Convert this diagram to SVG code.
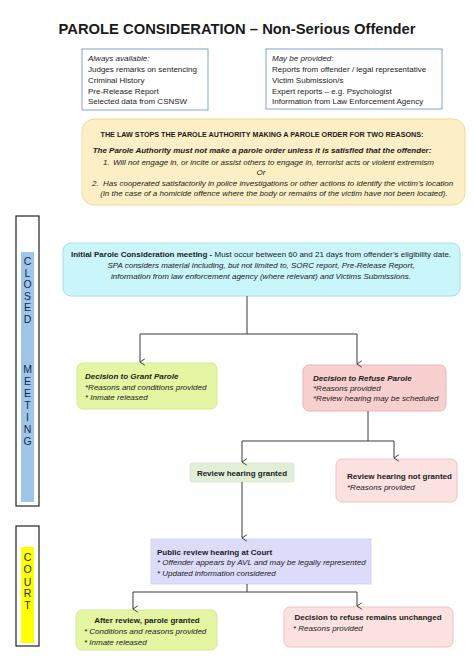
<svg xmlns="http://www.w3.org/2000/svg" width="474" height="670" viewBox="0 0 474 670">
<defs>
<style>
text{font-family:"Liberation Sans",Arial,sans-serif;fill:#1a1a1a;font-size:8px}
.b{font-weight:bold}
.i{font-style:italic}
.c{text-anchor:middle}
.side{font-size:10.5px;text-anchor:middle;fill:#1a2a4a}
.conn{fill:none;stroke:#3a3a3a;stroke-width:1}
</style>
<marker id="arr" viewBox="0 0 10 10" refX="5" refY="9" markerWidth="8" markerHeight="8" markerUnits="userSpaceOnUse" orient="auto-start-reverse">
<path d="M1,3 L5,9 L9,3" fill="none" stroke="#3a3a3a" stroke-width="1.2"/>
</marker>
</defs>
<rect width="474" height="670" fill="#ffffff"/>

<g id="title">
<text x="237" y="34" class="b c" style="font-size:15.5px" textLength="357" lengthAdjust="spacingAndGlyphs">PAROLE CONSIDERATION – Non-Serious Offender</text>
</g>

<g id="always">
<rect x="82" y="49" width="126" height="61" fill="#fff" stroke="#7aa6d2" stroke-width="1"/>
<text x="88" y="61" class="i">Always available:</text>
<text x="88" y="72">Judges remarks on sentencing</text>
<text x="88" y="83">Criminal History</text>
<text x="88" y="94">Pre-Release Report</text>
<text x="88" y="104">Selected data from CSNSW</text>
</g>

<g id="maybe">
<rect x="266" y="49" width="176" height="60" fill="#fff" stroke="#7aa6d2" stroke-width="1"/>
<text x="272" y="61" class="i">May be provided:</text>
<text x="272" y="72">Reports from offender / legal representative</text>
<text x="272" y="83">Victim Submission/s</text>
<text x="272" y="94">Expert reports – e.g. Psychologist</text>
<text x="272" y="104">Information from Law Enforcement Agency</text>
</g>

<g id="law">
<rect x="82" y="119" width="383" height="86" rx="12" fill="#fcefc6" stroke="#f3d99a" stroke-width="1"/>
<text x="262" y="137" class="b c" style="font-size:7.2px">THE LAW STOPS THE PAROLE AUTHORITY MAKING A PAROLE ORDER FOR TWO REASONS:</text>
<text x="262" y="153" class="b i c">The Parole Authority must not make a parole order unless it is satisfied that the offender:</text>
<text x="103" y="165" class="i">1.</text>
<text x="113" y="165" class="i">Will not engage in, or incite or assist others to engage in, terrorist acts or violent extremism</text>
<text x="261" y="175" class="i c">Or</text>
<text x="92" y="186" class="i">2.</text>
<text x="103" y="186" class="i">Has cooperated satisfactorily in police investigations or other actions to identify the victim’s location</text>
<text x="274" y="196" class="i c">(in the case of a homicide offence where the body or remains of the victim have not been located).</text>
</g>

<g id="closed-meeting">
<rect x="16" y="216" width="23" height="290" fill="#fff" stroke="#222" stroke-width="1.2"/>
<rect x="21" y="252" width="13" height="250" fill="#9fc5e8"/>
<text x="27.5" y="265" class="side">C</text>
<text x="27.5" y="276.5" class="side">L</text>
<text x="27.5" y="288" class="side">O</text>
<text x="27.5" y="299.5" class="side">S</text>
<text x="27.5" y="311" class="side">E</text>
<text x="27.5" y="322.5" class="side">D</text>
<text x="27.5" y="373" class="side">M</text>
<text x="27.5" y="385" class="side">E</text>
<text x="27.5" y="397" class="side">E</text>
<text x="27.5" y="409" class="side">T</text>
<text x="27.5" y="421" class="side">I</text>
<text x="27.5" y="433" class="side">N</text>
<text x="27.5" y="445" class="side">G</text>
</g>

<g id="court">
<rect x="16" y="526" width="23" height="120" fill="#fff" stroke="#222" stroke-width="1.2"/>
<rect x="21" y="547" width="13" height="96" fill="#ffff00"/>
<text x="27.5" y="561" class="side">C</text>
<text x="27.5" y="573" class="side">O</text>
<text x="27.5" y="585.5" class="side">U</text>
<text x="27.5" y="597" class="side">R</text>
<text x="27.5" y="609" class="side">T</text>
</g>

<g id="initial">
<rect x="63" y="243" width="397" height="53" rx="8" fill="#c9f5fb" stroke="#a6dfe8" stroke-width="1"/>
<text x="261" y="257" class="c"><tspan class="b">Initial Parole Consideration meeting - </tspan>Must occur between 60 and 21 days from offender’s eligibility date.</text>
<text x="261" y="268" class="i c">SPA considers material including, but not limited to, SORC report, Pre-Release Report,</text>
<text x="261" y="279" class="i c">information from law enforcement agency (where relevant) and Victims Submissions.</text>
</g>

<g id="grant">
<rect x="77" y="363" width="140" height="46" rx="6" fill="#e4f6a2" stroke="#d3e79a" stroke-width="1"/>
<text x="85" y="379" class="b i">Decision to Grant Parole</text>
<text x="85" y="390" class="i">*Reasons and conditions provided</text>
<text x="85" y="400" class="i">* Inmate released</text>
</g>

<g id="refuse">
<rect x="303" y="365" width="143" height="46" rx="6" fill="#f8cfcf" stroke="#eeb3b3" stroke-width="1"/>
<text x="313" y="381" class="b i">Decision to Refuse Parole</text>
<text x="313" y="391" class="i">*Reasons provided</text>
<text x="313" y="401" class="i">*Review hearing may be scheduled</text>
</g>

<g id="review-granted">
<rect x="190" y="463" width="104" height="19" rx="2" fill="#e1efd9" stroke="#d5e6cb" stroke-width="0.8"/>
<text x="242" y="476" class="b c">Review hearing granted</text>
</g>

<g id="review-not-granted">
<rect x="336" y="459" width="121" height="43" rx="6" fill="#fbe2e1" stroke="#f0c0c0" stroke-width="1"/>
<text x="347" y="479" class="b">Review hearing not granted</text>
<text x="347" y="490" class="i">*Reasons provided</text>
</g>

<g id="public-review">
<rect x="151" y="539" width="220" height="45" fill="#dcdcfa" stroke="#ccccf0" stroke-width="0.8"/>
<text x="157" y="555" class="b">Public review hearing at Court</text>
<text x="157" y="565" class="i">* Offender appears by AVL and may be legally represented</text>
<text x="157" y="576" class="i">* Updated information considered</text>
</g>

<g id="after-review">
<rect x="76" y="610" width="141" height="40" rx="6" fill="#e4f6a2" stroke="#d3e79a" stroke-width="1"/>
<text x="147" y="623" class="b c">After review, parole granted</text>
<text x="84" y="634" class="i">* Conditions and reasons provided</text>
<text x="84" y="645" class="i">* Inmate released</text>
</g>

<g id="refuse-unchanged">
<rect x="284" y="607" width="169" height="40" rx="6" fill="#fbe2e0" stroke="#f0c0c0" stroke-width="1"/>
<text x="368" y="620" class="b c">Decision to refuse remains unchanged</text>
<text x="293" y="631" class="i">* Reasons provided</text>
</g>

<g id="connectors">
<path class="conn" d="M247,296 V334 H140 V362" marker-end="url(#arr)"/>
<path class="conn" d="M247,334 H357 V364" marker-end="url(#arr)"/>
<path class="conn" d="M368,411 V441 H242 V462" marker-end="url(#arr)"/>
<path class="conn" d="M368,441 H394 V458" marker-end="url(#arr)"/>
<path class="conn" d="M242,482 V538" marker-end="url(#arr)"/>
<path class="conn" d="M247,584 V592 H133 V609" marker-end="url(#arr)"/>
<path class="conn" d="M247,592 H357 V606" marker-end="url(#arr)"/>
</g>
</svg>
